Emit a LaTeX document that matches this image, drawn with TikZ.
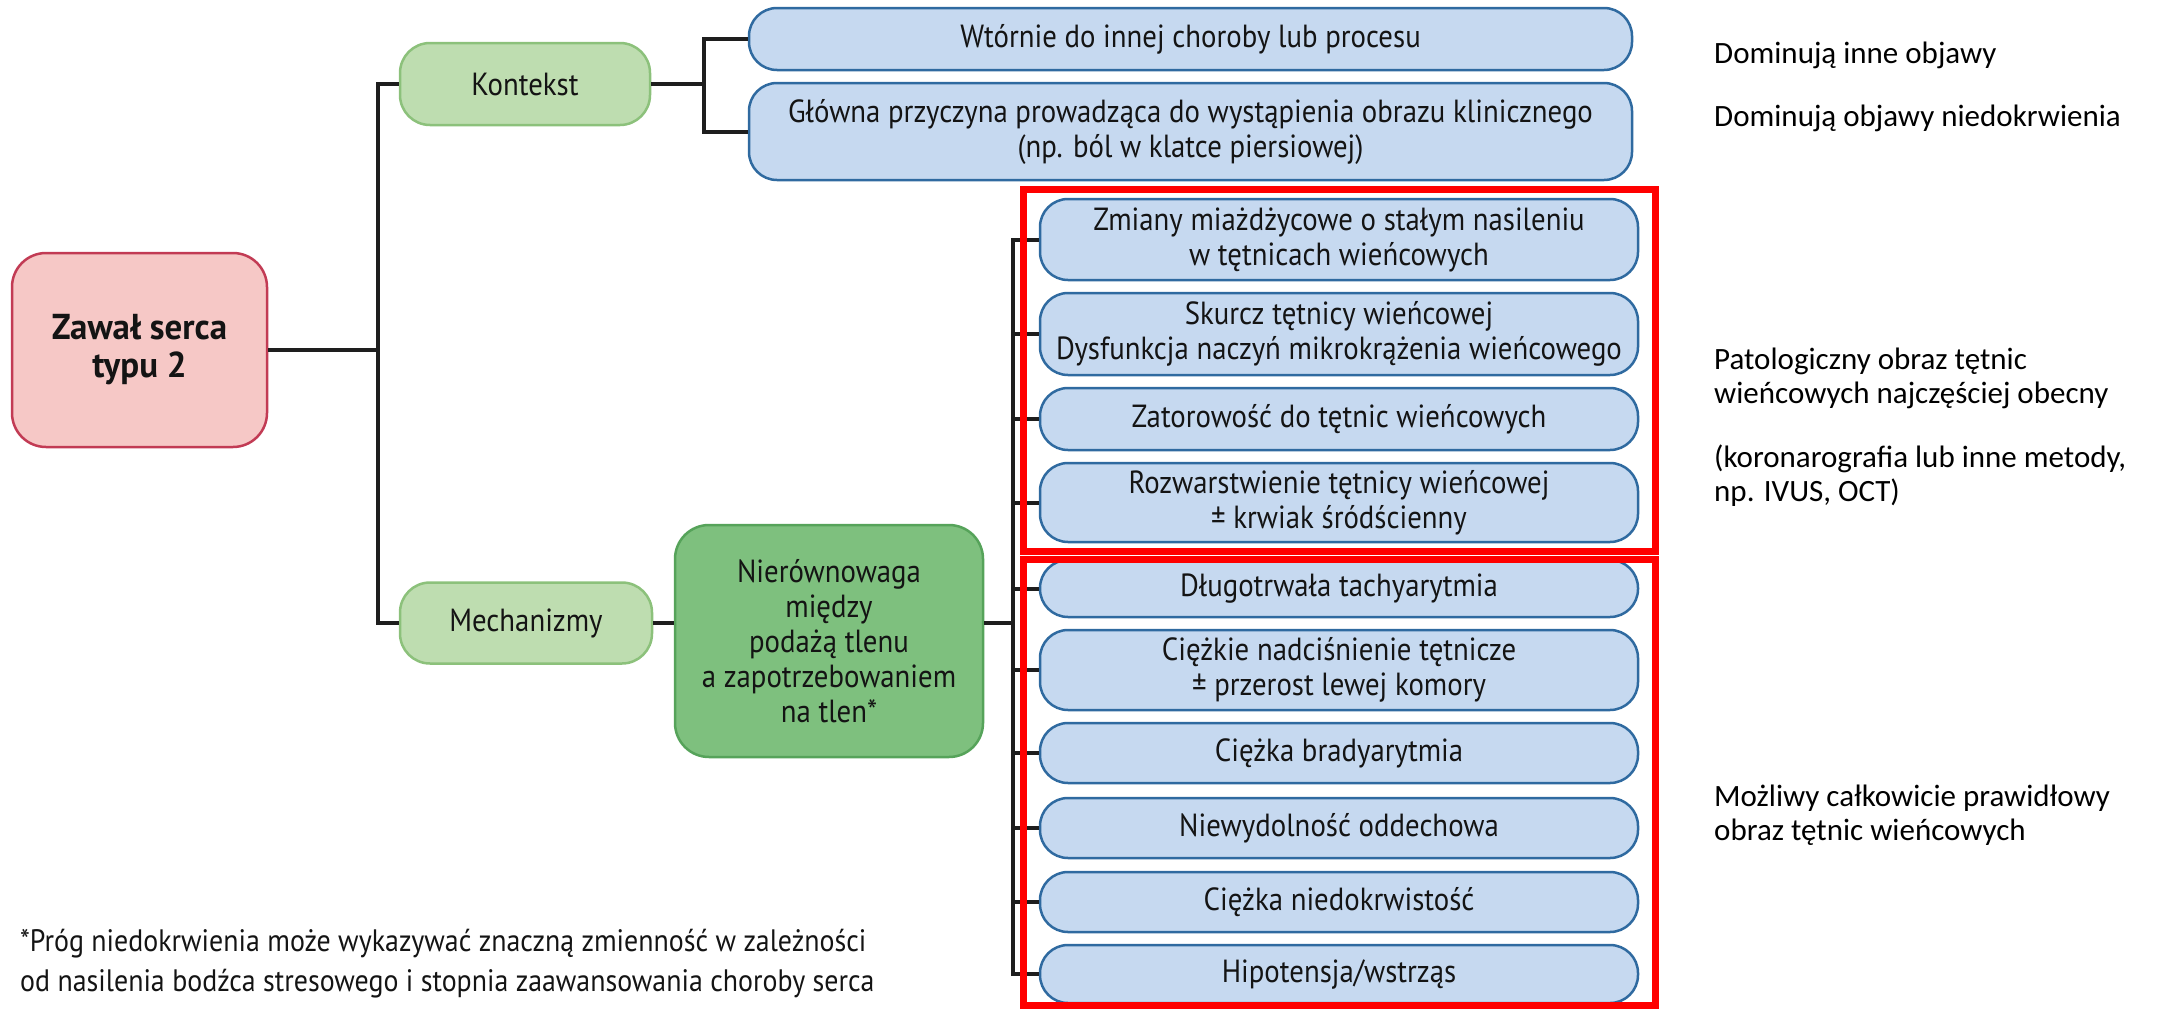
\documentclass[tikz,border=0pt]{standalone}
\usepackage{fontspec}
\setmainfont{PT Sans}[FakeStretch=0.9]
\newfontfamily\rootfont{PT Sans}[FakeStretch=0.97]
\newfontfamily\calib{Carlito}
\definecolor{bfill}{HTML}{C6D9F0}
\definecolor{bborder}{HTML}{2F6AA0}
\definecolor{gfill}{HTML}{BEDDB0}
\definecolor{gborder}{HTML}{8CC17B}
\definecolor{dgfill}{HTML}{7EC07E}
\definecolor{dgborder}{HTML}{56A35A}
\definecolor{pfill}{HTML}{F6C8C6}
\definecolor{pborder}{HTML}{C23B54}
\definecolor{txt}{HTML}{141414}
\definecolor{conn}{HTML}{1E1E1E}
\begin{document}
\begin{tikzpicture}[x=1pt,y=-1pt,
  base/.style={align=center, inner sep=0pt, text=txt, font=\fontsize{32}{35}\selectfont},
  bluebox/.style={base, draw=bborder, fill=bfill, line width=2.5pt, rounded corners=28pt, minimum width=598pt},
  ctxbox/.style={bluebox, minimum width=883pt},
  greenbox/.style={base, draw=gborder, fill=gfill, line width=2.5pt, rounded corners=30pt},
  darkgreen/.style={base, draw=dgborder, fill=dgfill, line width=2.5pt, rounded corners=34pt},
  rootbox/.style={base, draw=pborder, fill=pfill, line width=2.5pt, rounded corners=34pt, font=\rootfont\bfseries\fontsize{36}{38}\selectfont},
  connector/.style={draw=conn, line width=4pt},
  redframe/.style={draw=red, line width=7pt},
  sidetext/.style={anchor=west, align=left, inner sep=0pt, text=black, font=\calib\fontsize{31}{34}\selectfont},
]
\useasboundingbox (0,0) rectangle (2165,1009);

% root and level 1
\node[rootbox, minimum width=255pt, minimum height=194pt] (zawal) at (139.5,350) {Zawał serca\\typu 2};
\node[greenbox, minimum width=250pt, minimum height=82pt] (kontekst) at (525,84) {Kontekst};
\node[greenbox, minimum width=252pt, minimum height=81pt] (mech) at (526,623) {Mechanizmy};
\node[darkgreen, minimum width=308pt, minimum height=232pt] (nier) at (829,641) {Nierównowaga\\między\\podażą tlenu\\a zapotrzebowaniem\\na tlen*};

% context boxes
\node[ctxbox, minimum height=62pt] (c1) at (1190.5,39) {Wtórnie do innej choroby lub procesu};
\node[ctxbox, minimum height=97pt] (c2) at (1190.5,131.5) {Główna przyczyna prowadząca do wystąpienia obrazu klinicznego\\(np. ból w klatce piersiowej)};

% mechanism boxes
\node[bluebox, minimum height=81pt] (m1) at (1339,239.5) {Zmiany miażdżycowe o stałym nasileniu\\w tętnicach wieńcowych};
\node[bluebox, minimum height=82pt] (m2) at (1339,334) {Skurcz tętnicy wieńcowej\\Dysfunkcja naczyń mikrokrążenia wieńcowego};
\node[bluebox, minimum height=62pt] (m3) at (1339,419) {Zatorowość do tętnic wieńcowych};
\node[bluebox, minimum height=79pt] (m4) at (1339,502.5) {Rozwarstwienie tętnicy wieńcowej\\± krwiak śródścienny};
\node[bluebox, minimum height=57pt] (m5) at (1339,588.5) {Długotrwała tachyarytmia};
\node[bluebox, minimum height=80pt] (m6) at (1339,670) {Ciężkie nadciśnienie tętnicze\\± przerost lewej komory};
\node[bluebox, minimum height=60pt] (m7) at (1339,753) {Ciężka bradyarytmia};
\node[bluebox, minimum height=60pt] (m8) at (1339,828) {Niewydolność oddechowa};
\node[bluebox, minimum height=60pt] (m9) at (1339,902) {Ciężka niedokrwistość};
\node[bluebox, minimum height=58pt] (m10) at (1339,974) {Hipotensja/wstrząs};

% connectors
\coordinate (trunk) at (378,350);
\coordinate (kb) at (704,84);
\coordinate (bus) at (1013,623);
\draw[connector] (zawal.east) -- (trunk);
\draw[connector] (kontekst.west) -| (trunk) |- (mech.west);
\draw[connector] (kontekst.east) -- (kb);
\draw[connector] (c1.west) -| (kb) |- (c2.west);
\draw[connector] (mech.east) -- (mech.east -| nier.west);
\draw[connector] (nier.east |- bus) -- (bus);
\draw[connector] (m1.west) -| (bus) |- (m10.west);
\foreach \m in {m2,m3,m4,m5,m6,m7,m8,m9}{
  \draw[connector] (bus |- \m.west) -- (\m.west);
}

% red frames
\draw[redframe] (1023.5,189) rectangle (1655,551);
\draw[redframe] (1023.5,559.5) rectangle (1655,1005);

% footnote
\node[anchor=north west, align=left, inner sep=0pt, text=txt, font=\fontsize{31}{40}\selectfont] (foot) at (20,929) {*Próg niedokrwienia może wykazywać znaczną zmienność w zależności\\od nasilenia bodźca stresowego i stopnia zaawansowania choroby serca};

% side texts
\node[sidetext] (s1) at (1714,55) {Dominują inne objawy};
\node[sidetext] (s2) at (1714,118) {Dominują objawy niedokrwienia};
\node[sidetext] (s3) at (1714,378) {Patologiczny obraz tętnic\\wieńcowych najczęściej obecny};
\node[sidetext] (s4) at (1714,476) {(koronarografia lub inne metody,\\np. IVUS, OCT)};
\node[sidetext] (s5) at (1714,815) {Możliwy całkowicie prawidłowy\\obraz tętnic wieńcowych};
\end{tikzpicture}
\end{document}
